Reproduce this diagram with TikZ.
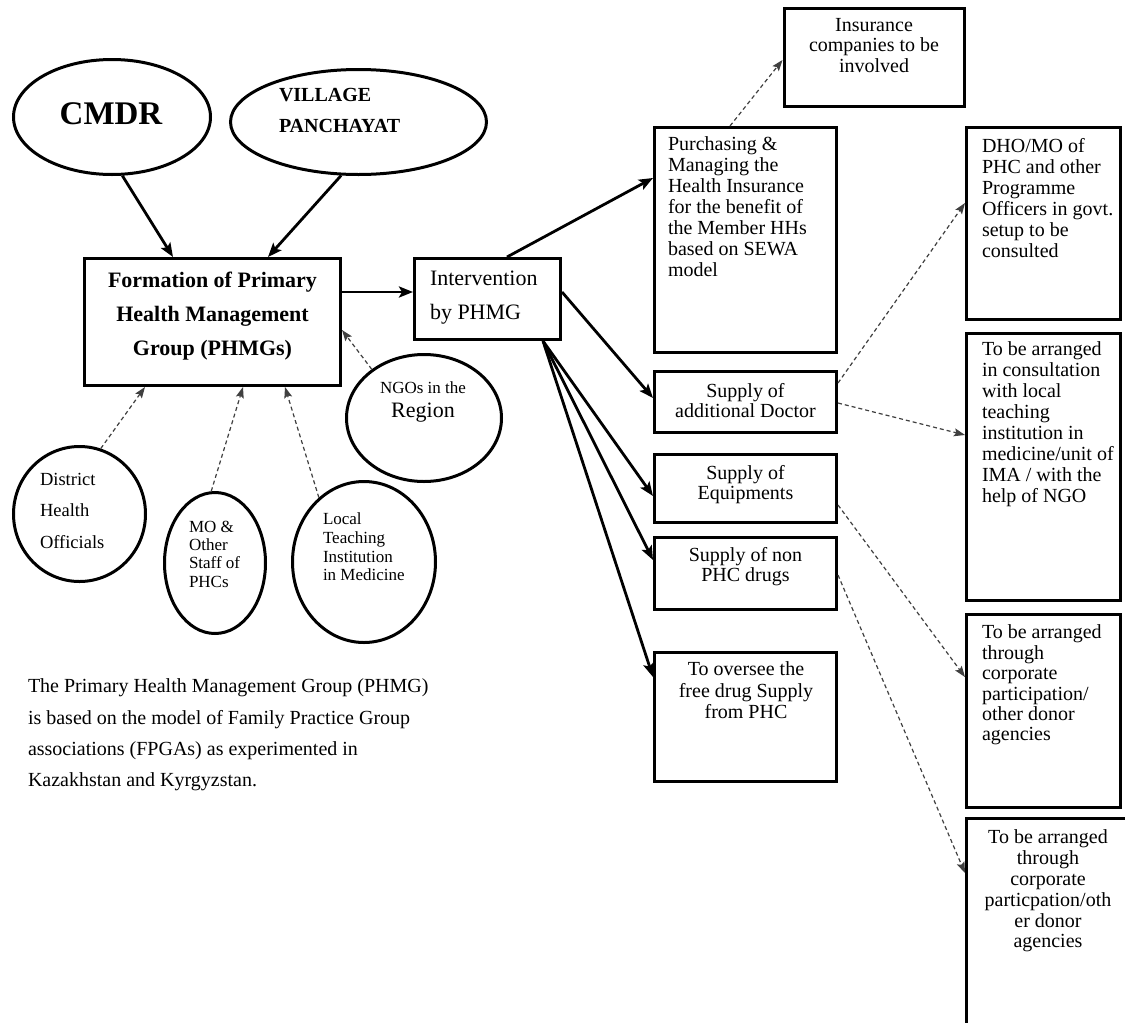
\documentclass[tikz,border=0pt]{standalone}
\usepackage{fontspec}
\setmainfont{Liberation Serif}
\usetikzlibrary{shapes.geometric,arrows.meta}
\begin{document}
\begin{tikzpicture}[x=1pt,y=-1pt,
  box/.style={draw,line width=3pt,inner sep=0pt},
  oval/.style={draw,ellipse,line width=3pt,inner sep=0pt},
  txt/.style={inner sep=0pt,outer sep=0pt,font=\fontsize{20}{21}\selectfont},
  arr/.style={line width=2.8pt,-{Stealth[length=14pt,width=11pt,inset=3pt]}},
  darr/.style={line width=1.2pt,black!75,dash pattern=on 4pt off 3pt,-{Stealth[length=11pt,width=8pt,inset=2pt]}},
]
\fill[white] (0,0) rectangle (1125,1023);
\useasboundingbox (0,0) rectangle (1125,1023);

% ellipses
\node[oval,minimum width=197pt,minimum height=115pt] (cmdr) at (112,117) {};
\node[oval,minimum width=256pt,minimum height=105pt] (village) at (358.5,122) {};
\node[oval,minimum width=132pt,minimum height=135pt] (district) at (79.5,514) {};
\node[oval,minimum width=101pt,minimum height=141pt] (mo) at (215,563) {};
\node[oval,minimum width=143pt,minimum height=161pt] (local) at (364,562) {};
\node[oval,minimum width=155pt,minimum height=127pt] (ngo) at (424,418) {};

% boxes
\node[box,minimum width=256pt,minimum height=127pt] (form) at (212.5,322) {};
\node[box,minimum width=146pt,minimum height=81pt] (inter) at (487.5,299) {};
\node[box,minimum width=182pt,minimum height=225pt] (purch) at (745.5,240) {};
\node[box,minimum width=180pt,minimum height=98pt] (ins) at (874,57.5) {};
\node[box,minimum width=182pt,minimum height=61pt] (doctor) at (745.5,402) {};
\node[box,minimum width=182pt,minimum height=68pt] (equip) at (745.5,488.5) {};
\node[box,minimum width=182pt,minimum height=72pt] (nonphc) at (745.5,573.5) {};
\node[box,minimum width=182pt,minimum height=129pt] (oversee) at (745.5,717) {};
\node[box,minimum width=154pt,minimum height=192pt] (dho) at (1043.5,223.5) {};
\node[box,minimum width=154pt,minimum height=267pt] (consult) at (1043.5,467) {};
\node[box,minimum width=154pt,minimum height=193pt] (corp) at (1043.5,711) {};
\node[box,minimum width=163pt,minimum height=213pt] (last) at (1048,925) {};

% texts
\node[txt,anchor=base,font=\fontsize{33}{36}\bfseries] (cmdrT) at (111,124) {CMDR};
\node[txt,anchor=north west,align=left,font=\fontsize{20}{31}\bfseries\selectfont] (villT) at (279,88) {VILLAGE\\PANCHAYAT};
\node[txt,anchor=north,align=center,font=\fontsize{22}{34}\bfseries\selectfont] (formT) at (212.5,272) {Formation of Primary\\Health Management\\Group (PHMGs)};
\node[txt,anchor=north west,align=left,font=\fontsize{22}{34}\selectfont] (interT) at (430,271) {Intervention\\by PHMG};
\node[txt,anchor=north west,align=left] (purchT) at (668,137) {Purchasing \&\\Managing the\\Health Insurance\\for the benefit of\\the Member HHs\\based on SEWA\\model};
\node[txt,anchor=north,align=center,font=\fontsize{20}{20.5}\selectfont] (insT) at (874,18) {Insurance\\companies to be\\involved};
\node[txt,anchor=north west,align=left] (dhoT) at (982,138) {DHO/MO of\\PHC and other\\Programme\\Officers in govt.\\setup to be\\consulted};
\node[txt,anchor=north west,align=left] (consT) at (982,342) {To be arranged\\in consultation\\with local\\teaching\\institution in\\medicine/unit of\\IMA / with the\\help of NGO};
\node[txt,anchor=north west,align=left,font=\fontsize{20}{20.4}\selectfont] (corpT) at (982,625) {To be arranged\\through\\corporate\\participation/\\other donor\\agencies};
\node[txt,anchor=north,align=center,font=\fontsize{20}{20.8}\selectfont] (lastT) at (1048,830) {To be arranged\\through\\corporate\\particpation/oth\\er donor\\agencies};
\node[txt,anchor=north,align=center,font=\fontsize{20}{20}\selectfont] (docT) at (745.5,383) {Supply of\\additional Doctor};
\node[txt,anchor=north,align=center,font=\fontsize{20}{20}\selectfont] (eqT) at (745.5,465) {Supply of\\Equipments};
\node[txt,anchor=north,align=center,font=\fontsize{20}{20}\selectfont] (nonT) at (745.5,547) {Supply of non\\PHC drugs};
\node[txt,anchor=north,align=center,font=\fontsize{20}{21.5}\selectfont] (overT) at (746,662) {To oversee the\\free drug Supply\\from PHC};
\node[txt,anchor=north west,align=left,font=\fontsize{18.5}{31.5}\selectfont] (distT) at (40,473) {District\\Health\\Officials};
\node[txt,anchor=north west,align=left,font=\fontsize{17}{18.3}\selectfont] (moT) at (189,521) {MO \&\\Other\\Staff of\\PHCs};
\node[txt,anchor=north west,align=left,font=\fontsize{17}{18.7}\selectfont] (locT) at (323,513) {Local\\Teaching\\Institution\\in Medicine};
\node[txt,anchor=base,font=\fontsize{17}{18}\selectfont] (ngoT1) at (423,393) {NGOs in the};
\node[txt,anchor=base,font=\fontsize{22}{24}\selectfont] (ngoT2) at (423,417) {Region};
\node[txt,anchor=north west,align=left,font=\fontsize{20}{31.3}\selectfont] (para) at (28,679) {The Primary Health Management Group (PHMG)\\is based on the model of Family Practice Group\\associations (FPGAs) as experimented in\\Kazakhstan and Kyrgyzstan.};

% solid arrows
\draw[arr] (cmdr.-80) -- ([xshift=90pt]form.north west);
\draw[arr] (village.-108) -- ([xshift=185pt]form.north west);
\draw[arr] ([yshift=-35pt]form.north east) -- ([yshift=-35pt]inter.north west);
\draw[arr] ([xshift=94pt]inter.north west) -- ([yshift=-52pt]purch.north west);
\draw[arr] ([yshift=-35pt]inter.north east) -- ([yshift=-28pt]doctor.north west);
\draw[arr] ([xshift=-19pt]inter.south east) -- ([yshift=-43pt]equip.north west);
\draw[arr] ([xshift=-19pt]inter.south east) -- ([yshift=-24pt]nonphc.north west);
\draw[arr] ([xshift=-19pt]inter.south east) -- ([yshift=-26pt]oversee.north west);

% dashed arrows
\draw[darr] ([xshift=77pt]purch.north west) -- ([yshift=-53pt]ins.north west);
\draw[darr] ([yshift=-13pt]doctor.north east) -- ([yshift=-77pt]dho.north west);
\draw[darr] ([yshift=-33pt]doctor.north east) -- ([yshift=-103pt]consult.north west);
\draw[darr] ([yshift=-52pt]equip.north east) -- ([yshift=-64pt]corp.north west);
\draw[darr] ([yshift=-39pt]nonphc.north east) -- ([yshift=-56pt]last.north west);
\draw[darr] (district.72) -- ([xshift=62pt]form.south west);
\draw[darr] (mo.93) -- ([xshift=160pt]form.south west);
\draw[darr] (local.125) -- ([xshift=202pt]form.south west);
\draw[darr] (ngo.137) -- ([yshift=-73pt]form.north east);
\end{tikzpicture}
\end{document}
